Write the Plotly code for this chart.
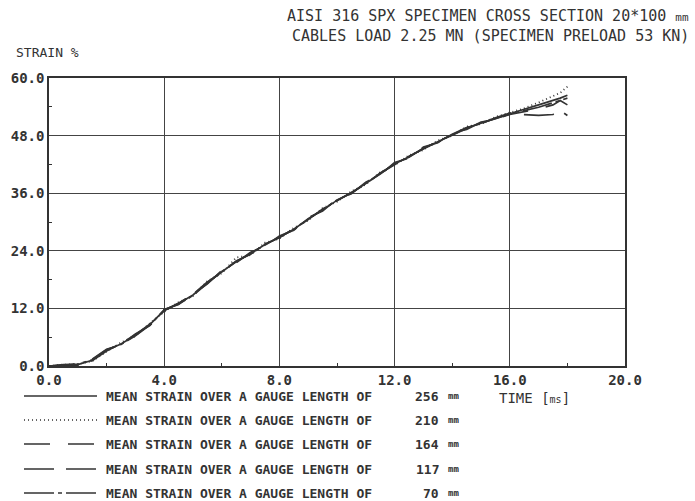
import plotly.graph_objects as go

# ---------------- data ----------------
time_ms = [0.0, 0.5, 1.0, 1.5, 2.0, 2.5, 3.0, 3.5, 4.0, 4.5, 5.0, 5.5, 6.0, 6.5,
           7.0, 7.5, 8.0, 8.5, 9.0, 9.5, 10.0, 10.5, 11.0, 11.5, 12.0, 12.5,
           13.0, 13.5, 14.0, 14.5, 15.0, 15.5, 16.0, 16.5, 17.0, 17.5, 17.75, 18.0]

strain_256 = [0.0, 0.2, 0.3, 1.2, 3.3, 4.6, 6.4, 8.6, 11.6, 13.0, 14.8, 17.4, 19.6, 21.8,
              23.4, 25.3, 26.8, 28.5, 30.6, 32.6, 34.5, 36.1, 38.0, 40.1, 42.1, 43.6,
              45.3, 46.7, 48.2, 49.6, 50.6, 51.6, 52.6, 53.5, 54.4, 55.3, 55.8, 56.4]
strain_210 = [0.0, 0.3, 0.4, 1.0, 3.0, 4.9, 6.2, 8.9, 11.3, 13.3, 14.6, 17.7, 19.3, 22.6,
              23.1, 25.7, 26.5, 28.8, 30.3, 32.9, 34.2, 36.4, 37.8, 40.4, 41.8, 43.9,
              45.0, 47.0, 48.0, 49.9, 50.4, 51.9, 52.8, 53.7, 54.9, 56.2, 56.9, 58.2]
strain_164 = [0.0, 0.1, 0.5, 1.4, 3.5, 4.4, 6.7, 8.4, 11.8, 12.8, 15.1, 17.1, 19.9, 21.5,
              23.7, 25.0, 27.1, 28.3, 30.9, 32.3, 34.8, 35.9, 38.3, 39.8, 42.4, 43.3,
              45.6, 46.5, 48.5, 49.3, 50.8, 51.4, 52.4, 53.0, 53.6, 54.4, 55.3, 54.4]
strain_117 = [0.0, 0.2, 0.2, 1.1, 3.1, 4.7, 6.5, 8.7, 11.5, 13.1, 14.9, 17.5, 19.5, 21.9,
              23.3, 25.4, 26.7, 28.6, 30.5, 32.7, 34.4, 36.2, 37.9, 40.2, 42.0, 43.7,
              45.2, 46.8, 48.1, 49.5, 50.7, 51.5, 52.5, 52.3, 52.2, 52.4, 53.2, 52.2]
strain_70 = [0.0, 0.3, 0.4, 1.3, 3.4, 4.5, 6.3, 8.5, 11.7, 12.9, 14.7, 17.3, 19.7, 21.7,
             23.5, 25.2, 26.9, 28.4, 30.7, 32.5, 34.6, 36.0, 38.1, 40.0, 42.2, 43.5,
             45.4, 46.6, 48.3, 49.7, 50.5, 51.7, 52.7, 53.2, 53.9, 54.8, 55.3, 55.8]

gauge_lengths = ["256", "210", "164", "117", "70"]
dash_styles = ["solid", "1px,3px", "26px,18px", "30px,12px", "30px,4px,4px,4px"]
series_values = [strain_256, strain_210, strain_164, strain_117, strain_70]

x_ticks = [0, 4, 8, 12, 16, 20]
x_tick_text = ["0.0", "4.0", "8.0", "12.0", "16.0", "20.0"]
y_ticks = [0, 12, 24, 36, 48, 60]
y_tick_text = ["0.0", "12.0", "24.0", "36.0", "48.0", "60.0"]

INK = "#333333"
MONO = "DejaVu Sans Mono"

fig = go.Figure()
for g, d, ys in zip(gauge_lengths, dash_styles, series_values):
    fig.add_trace(go.Scatter(
        x=time_ms, y=ys, mode="lines", name=g + " mm",
        line=dict(color=INK, width=1.7, dash=d), showlegend=False))

# ---------- manual legend (samples + text) ----------
W, H = 695, 501
L, R, T, B = 49, 70, 78, 135
pw, ph = W - L - R, H - T - B


def px(xp):
    return (xp - L) / pw


def py(yp):
    return (H - B - yp) / ph


legend_rows = [396, 420, 444, 469, 493]
for g, d, yr in zip(gauge_lengths, dash_styles, legend_rows):
    fig.add_shape(type="line", xref="paper", yref="paper",
                  x0=px(24), x1=px(97), y0=py(yr), y1=py(yr),
                  line=dict(color=INK, width=1.3, dash=d))
    fig.add_annotation(xref="paper", yref="paper", x=px(104), y=py(yr),
                       xanchor="left", yanchor="middle", showarrow=False,
                       text="MEAN STRAIN OVER A GAUGE LENGTH OF",
                       font=dict(family=MONO, size=13, color=INK, weight="bold"))
    fig.add_annotation(xref="paper", yref="paper", x=px(441), y=py(yr),
                       xanchor="right", yanchor="middle", showarrow=False,
                       text=g,
                       font=dict(family=MONO, size=13, color=INK, weight="bold"))
    fig.add_annotation(xref="paper", yref="paper", x=px(446), y=py(yr),
                       xanchor="left", yanchor="middle", showarrow=False,
                       text="mm",
                       font=dict(family=MONO, size=9, color=INK, weight="bold"))

# title
fig.add_annotation(xref="paper", yref="paper", x=px(691), y=py(16),
                   xanchor="right", yanchor="middle", showarrow=False,
                   text="AISI 316 SPX SPECIMEN CROSS SECTION 20*100 <span style='font-size:11px'>mm</span>",
                   font=dict(family=MONO, size=15, color=INK))
fig.add_annotation(xref="paper", yref="paper", x=px(691), y=py(36),
                   xanchor="right", yanchor="middle", showarrow=False,
                   text="CABLES LOAD 2.25 MN (SPECIMEN PRELOAD 53 KN)",
                   font=dict(family=MONO, size=15, color=INK))
# axis titles
fig.add_annotation(xref="paper", yref="paper", x=px(14), y=py(53),
                   xanchor="left", yanchor="middle", showarrow=False,
                   text="STRAIN %", font=dict(family=MONO, size=13, color=INK))
fig.add_annotation(xref="paper", yref="paper", x=px(497), y=py(398),
                   xanchor="left", yanchor="middle", showarrow=False,
                   text="TIME [<span style='font-size:10px'>ms</span>]",
                   font=dict(family=MONO, size=14, color=INK))

axis_common = dict(showline=True, linecolor=INK, linewidth=1.5, mirror=True,
                   showgrid=True, gridcolor="#444444", gridwidth=1.3,
                   ticks="", zeroline=False,
                   tickfont=dict(family=MONO, size=14, color=INK, weight="bold"))

fig.update_xaxes(range=[0, 20], tickvals=x_ticks, ticktext=x_tick_text,
                 minor=dict(tickvals=[2, 6, 10, 14, 18], ticks="inside", ticklen=3,
                            tickcolor=INK, showgrid=False),
                 **axis_common)
fig.update_yaxes(range=[0, 60], tickvals=y_ticks, ticktext=y_tick_text,
                 minor=dict(tickvals=[6, 18, 30, 42, 54], ticks="inside", ticklen=3,
                            tickcolor=INK, showgrid=False),
                 **axis_common)

fig.update_layout(width=W, height=H, margin=dict(l=L, r=R, t=T, b=B),
                  plot_bgcolor="white", paper_bgcolor="white", showlegend=False)

fig.write_html("out.html")
